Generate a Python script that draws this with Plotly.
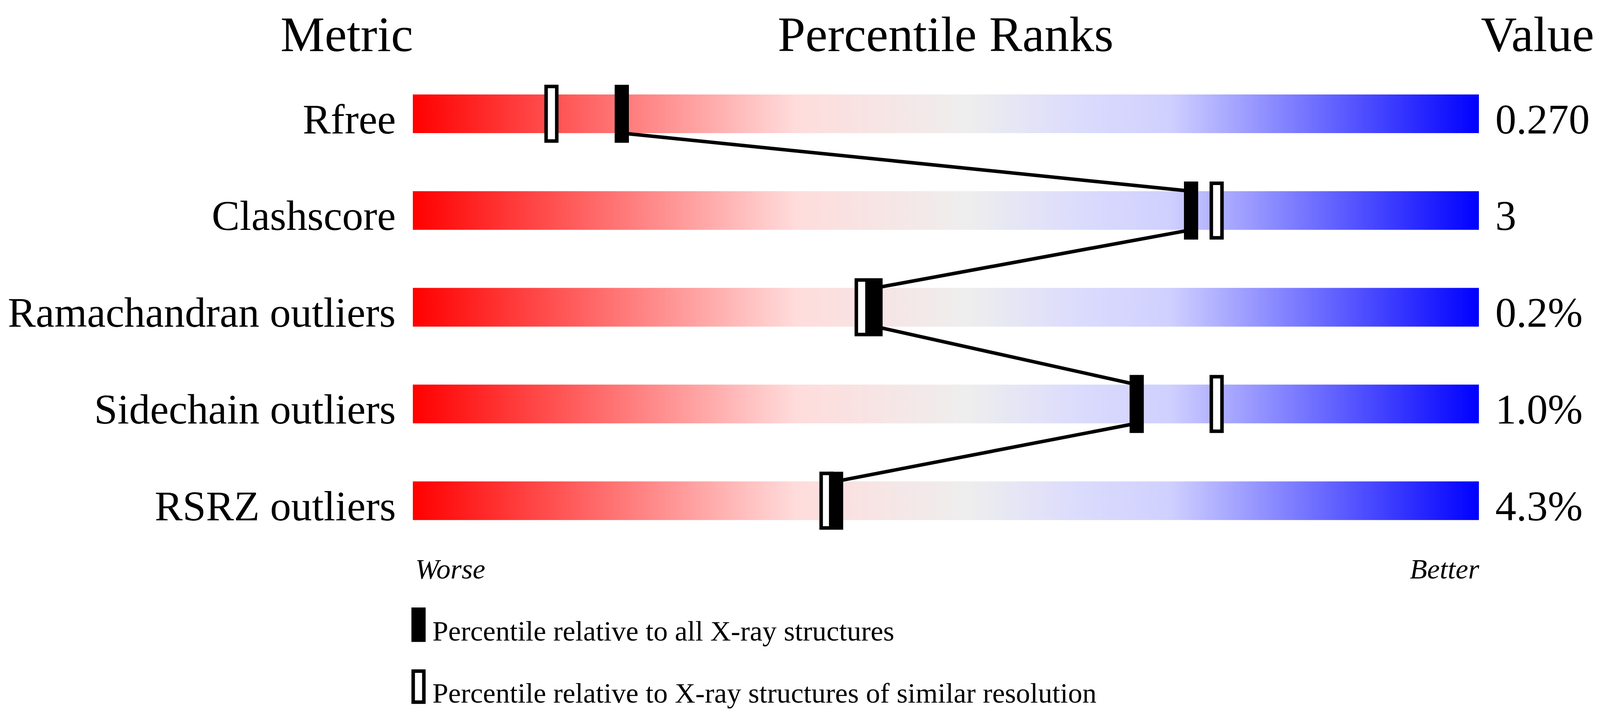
import plotly.graph_objects as go

# ---------------- data ----------------
metrics = ["Rfree", "Clashscore", "Ramachandran outliers", "Sidechain outliers", "RSRZ outliers"]
values_text = ["0.270", "3", "0.2%", "1.0%", "4.3%"]
pct_all = [19.6, 73.0, 43.4, 67.9, 39.7]        # filled markers
pct_similar = [13.0, 75.4, 42.1, 75.4, 38.8]    # open markers
legend_labels = ["Percentile relative to all X-ray structures",
                 "Percentile relative to X-ray structures of similar resolution"]
header_labels = ["Metric", "Percentile Ranks", "Value"]
axis_words = ["Worse", "Better"]

gradient = [[0.0, "#ff0000"], [0.36, "#ffdcdc"], [0.52, "#eeeeee"],
            [0.62, "#dcdcfd"], [0.71, "#d0d0ff"], [1.0, "#0000ff"]]

# ---------------- geometry (reference pixel space) ----------------
REF_W, REF_H = 4485, 1824
BAR_L, BAR_R = 1153, 4153
PPU = (BAR_R - BAR_L) / 100.0        # ref pixels per percentile
ROW0, ROW_STEP = 286, 250
S = 0.91                              # horizontal scale of the rendered page vs reference
FONT = "Liberation Serif, Times New Roman, serif"

F_TITLE = 140 * S
F_ROW = 118 * S
F_SMALL = 80 * S


def dx(p):   # ref pixels -> percentile units
    return p / PPU


def dy(p):   # ref pixels -> row units
    return p / ROW_STEP


def mid_from_baseline(base_px, font):
    # centre of the text box for a given baseline (Liberation Serif metrics)
    return base_px - 0.3375 * font


x_range = [-BAR_L / PPU, (REF_W - BAR_L) / PPU]
y_range = [(REF_H - ROW0) / ROW_STEP, -ROW0 / ROW_STEP]

BAR_HALF = dy(50)
MARK_HALF_H = dy(75)
MARK_HALF_W = dx(20)
LW = 9

fig = go.Figure()

# gradient bars
for i, m in enumerate(metrics):
    fig.add_trace(go.Scatter(
        x=[0, 100, 100, 0, 0],
        y=[i - BAR_HALF, i - BAR_HALF, i + BAR_HALF, i + BAR_HALF, i - BAR_HALF],
        mode="lines", line=dict(width=0), fill="toself",
        fillgradient=dict(type="horizontal", colorscale=gradient, start=0, stop=100),
        hoverinfo="skip", showlegend=False))

# connecting line through filled markers
lx, ly = [], []
for i, p in enumerate(pct_all):
    if i > 0:
        lx.append(p); ly.append(i - BAR_HALF)
    if i < len(pct_all) - 1:
        lx.append(p); ly.append(i + BAR_HALF)
fig.add_trace(go.Scatter(x=lx, y=ly, mode="lines",
                         line=dict(color="black", width=LW),
                         hoverinfo="skip", showlegend=False))

shapes = []
hw_in = MARK_HALF_W - dx(5)
hh_in = MARK_HALF_H - dy(4.5)
for i, p in enumerate(pct_similar):
    shapes.append(dict(type="rect", xref="x", yref="y",
                       x0=p - hw_in, x1=p + hw_in, y0=i - hh_in, y1=i + hh_in,
                       fillcolor="white", line=dict(color="black", width=LW)))
for i, p in enumerate(pct_all):
    shapes.append(dict(type="rect", xref="x", yref="y",
                       x0=p - MARK_HALF_W, x1=p + MARK_HALF_W,
                       y0=i - MARK_HALF_H, y1=i + MARK_HALF_H,
                       fillcolor="black", line=dict(width=0)))

# legend symbols
leg_x = dx(1169 - BAR_L)
leg_y = [dy(1606.5 - ROW0), dy(1766.5 - ROW0)]
leg_hh = dy(44.5)
shapes.append(dict(type="rect", xref="x", yref="y",
                   x0=leg_x - MARK_HALF_W, x1=leg_x + MARK_HALF_W,
                   y0=leg_y[0] - leg_hh, y1=leg_y[0] + leg_hh,
                   fillcolor="black", line=dict(width=0)))
shapes.append(dict(type="rect", xref="x", yref="y",
                   x0=leg_x - hw_in, x1=leg_x + hw_in,
                   y0=leg_y[1] - (leg_hh - dy(4.5)), y1=leg_y[1] + (leg_hh - dy(4.5)),
                   fillcolor="white", line=dict(color="black", width=LW)))

ann = []
# headers (baseline kept low enough that the text box stays inside the page)
hy = dy(mid_from_baseline(124, F_TITLE) - ROW0)
ann.append(dict(x=dx(1154 - BAR_L), y=hy, text=header_labels[0], xanchor="right",
                yanchor="middle", font=dict(size=F_TITLE)))
ann.append(dict(x=50, y=hy, text=header_labels[1], xanchor="center", yanchor="middle",
                font=dict(size=F_TITLE)))
ann.append(dict(x=dx(4158 - BAR_L), y=hy, text=header_labels[2], xanchor="left",
                yanchor="middle", font=dict(size=F_TITLE)))
# row labels and values
row_off = dy(mid_from_baseline(50, F_ROW))
for i, (m, v) in enumerate(zip(metrics, values_text)):
    ann.append(dict(x=dx(1105 - BAR_L), y=i + row_off, text=m, xanchor="right",
                    yanchor="middle", font=dict(size=F_ROW)))
    ann.append(dict(x=dx(4199 - BAR_L), y=i + row_off, text=v, xanchor="left",
                    yanchor="middle", font=dict(size=F_ROW)))
# worse / better
wy = dy(mid_from_baseline(1487, F_SMALL) - ROW0)
ann.append(dict(x=dx(1160 - BAR_L), y=wy, text="<i>%s</i>" % axis_words[0], xanchor="left",
                yanchor="middle", font=dict(size=F_SMALL)))
ann.append(dict(x=dx(4155 - BAR_L), y=wy, text="<i>%s</i>" % axis_words[1], xanchor="right",
                yanchor="middle", font=dict(size=F_SMALL)))
# legend texts
for k, t in enumerate(legend_labels):
    base = [1647, 1808][k]
    ann.append(dict(x=dx(1208 - BAR_L), y=dy(mid_from_baseline(base, F_SMALL) - ROW0), text=t,
                    xanchor="left", yanchor="middle", font=dict(size=F_SMALL)))

for a in ann:
    a.update(xref="x", yref="y", showarrow=False, borderpad=0, borderwidth=0)
    a["font"].update(family=FONT, color="black")

fig.update_layout(
    autosize=True,
    margin=dict(l=0, r=0, t=0, b=0, pad=0),
    paper_bgcolor="white", plot_bgcolor="white",
    showlegend=False,
    xaxis=dict(range=x_range, visible=False, fixedrange=True, domain=[0, 1]),
    yaxis=dict(range=y_range, visible=False, fixedrange=True, domain=[0, 1]),
    shapes=shapes, annotations=ann,
)

fig.write_html("out.html", config={"displayModeBar": False, "responsive": True},
               default_width="calc(100vw - 16px)", default_height="calc(100vh - 16px)")
